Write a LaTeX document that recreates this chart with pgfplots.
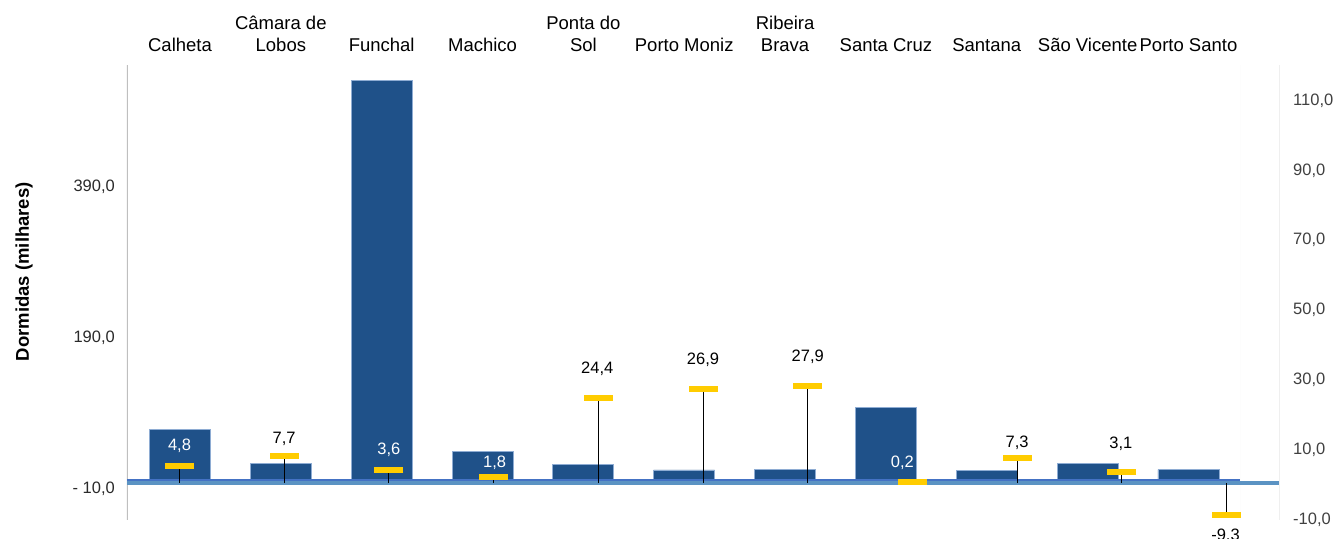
\documentclass[border=0pt]{standalone}
\usepackage{fontspec}
\setmainfont{Liberation Sans}
\usepackage{pgfplots}
\pgfplotsset{compat=1.18}
\usepackage{pgfplotstable}
\definecolor{barblue}{HTML}{1F5189}
\definecolor{baredge}{HTML}{8EACD3}
\definecolor{ylw}{HTML}{FFCC00}
\definecolor{axdark}{HTML}{4472C4}
\definecolor{axlight}{HTML}{5B93C3}
\definecolor{axgray}{HTML}{BFBFBF}
\definecolor{faint}{HTML}{EFEFEF}
\definecolor{tickl}{HTML}{2A2A2A}
\definecolor{tickr}{HTML}{404040}

\pgfplotstableread{
x v
0 69
1 24
2 530.7
3 40.3
4 22.7
5 15.2
6 16.5
7 98.1
8 14.3
9 23.5
10 15.6
}\bars

\pgfplotstableread{
x v
0 4.8
1 7.7
2 3.6
3 1.8
4 24.4
5 26.9
6 27.9
7 0.2
8 7.3
9 3.1
10 -9.3
}\var

% label positions (value plus the label offset)
\pgfplotstableread{
x y lab
0 10.53 4,8
2 9.53 3,6
3.01 5.81 1,8
6.904 5.93 0,2
}\labW

\pgfplotstableread{
x y lab
1 12.57 7,7
3.99 32.62 24,4
5 35.32 26,9
6 36.21 27,9
8 11.6 7,3
8.99 11.12 3,1
9.99 -15.03 -9,3
}\labB

\begin{document}
\begin{tikzpicture}
\begin{axis}[
  at={(127pt,18pt)}, anchor=south west,
  scale only axis, width=1113pt, height=455pt,
  xmin=-0.5255, xmax=10.511, ymin=-50.9, ymax=550.6,
  axis line style={draw=none},
  xtick={0,...,10},
  xticklabels={Calheta,{Câmara de\\Lobos},Funchal,Machico,{Ponta do\\Sol},Porto Moniz,{Ribeira\\Brava},Santa Cruz,Santana,São Vicente,Porto Santo},
  xticklabel pos=upper,
  xticklabel style={align=center, anchor=south, inner sep=0pt, yshift=13.4pt, font=\fontsize{18.5}{21.5}\selectfont, text=black},
  ytick={-10,190,390},
  yticklabels={{- 10,0},{190,0},{390,0}},
  yticklabel style={anchor=east, inner sep=0pt, xshift=-12pt, font=\fontsize{16.5}{19}\selectfont, text=tickl},
  tick style={draw=none}, major tick length=0pt,
  ylabel={Dormidas (milhares)},
  ylabel style={at={(axis description cs:-0.0925,0.5457)}, anchor=center, font=\bfseries\fontsize{18.5}{22}\selectfont},
  /pgf/number format/assume math mode=true,
]
\draw[axgray, line width=1.5pt] (rel axis cs:0,0) -- (rel axis cs:0,1);
\draw[faint, line width=1pt] (rel axis cs:1,0) -- (rel axis cs:1,1);
\addplot[ybar, bar width=61pt, fill=barblue, draw=baredge, line width=0.8pt] table[x=x,y=v]{\bars};
\draw[axdark, line width=2pt] ([yshift=1pt]axis cs:-0.5255,0) -- ([yshift=1pt]axis cs:10.511,0);
\end{axis}

\begin{axis}[
  at={(127pt,18pt)}, anchor=south west,
  scale only axis, width=1152pt, height=455pt,
  xmin=-0.5014, xmax=10.501, ymin=-10.6, ymax=119.8,
  axis line style={draw=none},
  xtick=\empty,
  ytick={-10,10,...,110},
  yticklabels={{-10,0},{10,0},{30,0},{50,0},{70,0},{90,0},{110,0}},
  yticklabel pos=right,
  yticklabel style={anchor=west, inner sep=0pt, xshift=14pt, yshift=-1.5pt, font=\fontsize{16.5}{19}\selectfont, text=tickr},
  tick style={draw=none}, major tick length=0pt,
  clip=false,
  /pgf/number format/assume math mode=true,
]
\draw[faint, line width=1pt] (rel axis cs:1,0) -- (rel axis cs:1,1);
\draw[axlight, line width=3.5pt] (axis cs:-0.5014,0) -- (axis cs:10.501,0);
\addplot[black, line width=0.9pt, mark=none, unbounded coords=jump] coordinates {
(0,0)(0,4.8)(0,nan)
(1,0)(1,7.7)(1,nan)
(2,0)(2,3.6)(2,nan)
(3,0)(3,1.8)(3,nan)
(4,0)(4,24.4)(4,nan)
(5,0)(5,26.9)(5,nan)
(6,0)(6,27.9)(6,nan)
(7,0)(7,0.2)(7,nan)
(8,0)(8,7.3)(8,nan)
(9,0)(9,3.1)(9,nan)
(10,0)(10,-9.3)
};
\addplot[only marks, mark=-, mark size=14.5pt, mark options={draw=ylw, line width=6pt}] table[x=x,y=v]{\var};
\addplot[draw=none, mark=none, point meta=explicit symbolic,
  nodes near coords={\pgfplotspointmeta},
  every node near coord/.append style={anchor=center, inner sep=0pt, font=\fontsize{16.5}{19}\selectfont, text=white}]
  table[x=x,y=y,meta=lab]{\labW};
\addplot[draw=none, mark=none, point meta=explicit symbolic,
  nodes near coords={\pgfplotspointmeta},
  every node near coord/.append style={anchor=center, inner sep=0pt, font=\fontsize{16.5}{19}\selectfont, text=black}]
  table[x=x,y=y,meta=lab]{\labB};
\end{axis}
\pgfresetboundingbox
\path[use as bounding box] (0pt,0pt) rectangle (1335pt,538pt);
\end{tikzpicture}
\end{document}
